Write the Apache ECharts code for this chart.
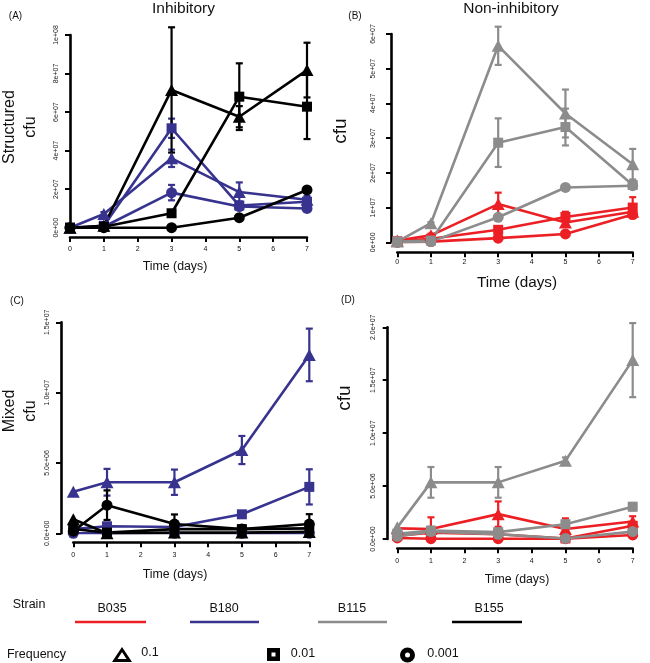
<!DOCTYPE html>
<html><head><meta charset="utf-8">
<script src="https://cdn.jsdelivr.net/npm/echarts@6/dist/echarts.min.js"></script>
<style>html,body{margin:0;padding:0;background:#fff}#c{width:650px;height:663px}</style>
</head><body><div id="c"></div>
<script>
// ---------- data ----------
const days = [0, 1, 3, 5, 7];
const xTicks = ['0','1','2','3','4','5','6','7'];
const yTicksA = ['0e+00','2e+07','4e+07','6e+07','8e+07','1e+08'];
const yTicksB = ['0e+00','1e+07','2e+07','3e+07','4e+07','5e+07','6e+07'];
const yTicksC = ['0.0e+00','5.0e+06','1.0e+07','1.5e+07'];
const yTicksD = ['0.0e+00','5.0e+06','1.0e+07','1.5e+07','2.0e+07'];

// Panel A: Structured, inhibitory
const A_B180_tri = [0, 0.71e7, 3.6e7, 1.85e7, 1.45e7];
const A_B180_triErr = [0, 0.1e7, 0.45e7, 0.5e7, 0.2e7];
const A_B180_sq = [0, 0.1e7, 5.16e7, 1.15e7, 1.35e7];
const A_B180_sqErr = [0, 0, 0.5e7, 0.2e7, 0.2e7];
const A_B180_cir = [0, 0.05e7, 1.82e7, 1.1e7, 1.0e7];
const A_B180_cirErr = [0, 0, 0.4e7, 0.15e7, 0.1e7];
const A_B155_tri = [0, 0.1e7, 7.15e7, 5.76e7, 8.18e7];
const A_B155_triErr = [0, 0, 3.25e7, 0.55e7, 1.42e7];
const A_B155_sq = [0, 0.05e7, 0.75e7, 6.8e7, 6.28e7];
const A_B155_sqErr = [0, 0, 0.05e7, 1.73e7, 1.68e7];
const A_B155_cir = [0, 0, 0, 0.52e7, 1.96e7];
const A_B155_cirErr = [0, 0, 0, 0.05e7, 0.1e7];

// Panel B: Structured, non-inhibitory
const B_B035_tri = [0.05e7, 0.2e7, 1.1e7, 0.57e7, 0.88e7];
const B_B035_triErr = [0.03e7, 0.05e7, 0.33e7, 0.12e7, 0.15e7];
const B_B035_sq = [0.03e7, 0.1e7, 0.36e7, 0.73e7, 1.0e7];
const B_B035_sqErr = [0, 0, 0.1e7, 0.15e7, 0.3e7];
const B_B035_cir = [0, 0.02e7, 0.12e7, 0.24e7, 0.8e7];
const B_B035_cirErr = [0, 0, 0.05e7, 0.08e7, 0.1e7];
const B_B115_tri = [0.02e7, 0.55e7, 5.66e7, 3.71e7, 2.25e7];
const B_B115_triErr = [0, 0.03e7, 0.55e7, 0.69e7, 0.44e7];
const B_B115_sq = [0.02e7, 0.05e7, 2.87e7, 3.32e7, 1.65e7];
const B_B115_sqErr = [0, 0, 0.7e7, 0.53e7, 0.08e7];
const B_B115_cir = [0, 0.02e7, 0.72e7, 1.58e7, 1.63e7];
const B_B115_cirErr = [0, 0, 0.05e7, 0.08e7, 0.05e7];

// Panel C: Mixed, inhibitory
const C_B180_tri = [2.96e6, 3.63e6, 3.63e6, 5.92e6, 12.68e6];
const C_B180_triErr = [0, 0.95e6, 0.9e6, 1.0e6, 1.87e6];
const C_B180_sq = [0.3e6, 0.5e6, 0.45e6, 1.35e6, 3.3e6];
const C_B180_sqErr = [0, 0.1e6, 0.05e6, 0.15e6, 1.25e6];
const C_B180_cir = [0, 0, 0, 0, 0];
const C_B180_cirErr = [0, 0, 0, 0, 0];
const C_B155_tri = [1.0e6, 0, 0.05e6, 0.05e6, 0.1e6];
const C_B155_triErr = [0, 0, 0, 0, 0];
const C_B155_sq = [0.3e6, 0.05e6, 0.3e6, 0.3e6, 0.35e6];
const C_B155_sqErr = [0, 0, 0, 0, 0];
const C_B155_cir = [0.15e6, 2.0e6, 0.66e6, 0.3e6, 0.66e6];
const C_B155_cirErr = [0, 1.05e6, 0.68e6, 0.1e6, 0.7e6];

// Panel D: Mixed, non-inhibitory
const D_B035_tri = [1.0e6, 0.95e6, 2.35e6, 0.95e6, 1.65e6];
const D_B035_triErr = [0, 1.1e6, 1.2e6, 1.0e6, 0.5e6];
const D_B035_sq = [0.3e6, 0.6e6, 0.45e6, 0.05e6, 1.25e6];
const D_B035_sqErr = [0, 0, 0, 0, 0.3e6];
const D_B035_cir = [0.1e6, 0.03e6, 0.03e6, 0.03e6, 0.38e6];
const D_B035_cirErr = [0, 0, 0, 0, 0];
const D_B115_tri = [1.1e6, 5.35e6, 5.35e6, 7.4e6, 16.9e6];
const D_B115_triErr = [0, 1.45e6, 1.45e6, 0.3e6, 3.5e6];
const D_B115_sq = [0.5e6, 0.8e6, 0.65e6, 1.4e6, 3.05e6];
const D_B115_sqErr = [0, 0, 0, 0.2e6, 0.35e6];
const D_B115_cir = [0.25e6, 0.7e6, 0.45e6, 0.05e6, 0.7e6];
const D_B115_cirErr = [0, 0, 0, 0, 0.3e6];

// ---------- style ----------
const COL = { B035: '#ec2024', B180: '#37338f', B115: '#8c8c8c', B155: '#000000' };
const SYM = { tri: ['triangle', [13, 12]], sq: ['rect', [10, 10]], cir: ['circle', [11, 11]] };
const FONT = '"Liberation Sans", Arial, Helvetica, sans-serif';

const panels = [
  { left: 70,    top: 35,    width: 237,   height: 192.7, xOff: 9.3, yOff: 0,    max: 1e8,   interval: 2e7, ticks: yTicksA, margin: 10, xMargin: 9 },
  { left: 397.3, top: 34,    width: 235.4, height: 208.3, xOff: 10,  yOff: 6.3,  max: 6e7,   interval: 1e7, ticks: yTicksB, margin: 14, xMargin: 6 },
  { left: 73.3,  top: 322.3, width: 236,   height: 211,   xOff: 9,   yOff: 12.3, max: 1.5e7, interval: 5e6, ticks: yTicksC, margin: 10, xMargin: 9 },
  { left: 397.3, top: 327.3, width: 235.4, height: 211.7, xOff: 9.3, yOff: 9.6,  max: 2e7,   interval: 5e6, ticks: yTicksD, margin: 11, xMargin: 9 }
];

const panelSeries = [
  [ ['B180','tri',A_B180_tri,A_B180_triErr], ['B180','sq',A_B180_sq,A_B180_sqErr], ['B180','cir',A_B180_cir,A_B180_cirErr],
    ['B155','tri',A_B155_tri,A_B155_triErr], ['B155','sq',A_B155_sq,A_B155_sqErr], ['B155','cir',A_B155_cir,A_B155_cirErr] ],
  [ ['B035','tri',B_B035_tri,B_B035_triErr], ['B035','sq',B_B035_sq,B_B035_sqErr], ['B035','cir',B_B035_cir,B_B035_cirErr],
    ['B115','tri',B_B115_tri,B_B115_triErr], ['B115','sq',B_B115_sq,B_B115_sqErr], ['B115','cir',B_B115_cir,B_B115_cirErr] ],
  [ ['B180','tri',C_B180_tri,C_B180_triErr], ['B180','sq',C_B180_sq,C_B180_sqErr], ['B180','cir',C_B180_cir,C_B180_cirErr],
    ['B155','tri',C_B155_tri,C_B155_triErr], ['B155','sq',C_B155_sq,C_B155_sqErr], ['B155','cir',C_B155_cir,C_B155_cirErr] ],
  [ ['B035','tri',D_B035_tri,D_B035_triErr], ['B035','sq',D_B035_sq,D_B035_sqErr], ['B035','cir',D_B035_cir,D_B035_cirErr],
    ['B115','tri',D_B115_tri,D_B115_triErr], ['B115','sq',D_B115_sq,D_B115_sqErr], ['B115','cir',D_B115_cir,D_B115_cirErr] ]
];

const grid = [], xAxis = [], yAxis = [], series = [];
panels.forEach((p, i) => {
  grid.push({ left: p.left, top: p.top, width: p.width, height: p.height, containLabel: false });
  xAxis.push({
    type: 'value', gridIndex: i, min: 0, max: 7, interval: 1, offset: p.xOff,
    axisLine: { show: true, onZero: false, lineStyle: { color: '#000', width: 2.6 } },
    axisTick: { show: true, length: 5, lineStyle: { color: '#000', width: 2 } },
    axisLabel: { fontSize: 7, color: '#111', margin: p.xMargin, fontFamily: FONT, formatter: v => xTicks[Math.round(v)] },
    splitLine: { show: false }
  });
  yAxis.push({
    type: 'value', gridIndex: i, min: 0, max: p.max, interval: p.interval, offset: p.yOff,
    axisLine: { show: true, onZero: false, lineStyle: { color: '#000', width: 2.6 } },
    axisTick: { show: true, length: 5, lineStyle: { color: '#000', width: 2 } },
    axisLabel: { fontSize: 7, color: '#222', rotate: 90, margin: p.margin, fontFamily: FONT,
      formatter: v => p.ticks[Math.round(v / p.interval)] },
    splitLine: { show: false }
  });
  panelSeries[i].forEach(([strain, shape, vals, errs]) => {
    const color = COL[strain];
    series.push({
      type: 'custom', xAxisIndex: i, yAxisIndex: i, silent: true, z: 3,
      data: days.map((d, k) => [d, vals[k], errs[k]]),
      renderItem: (params, api) => {
        const x = api.value(0), y = api.value(1), e = api.value(2);
        if (!e) return null;
        const t = api.coord([x, y + e]), b = api.coord([x, y - e]);
        const w = 3.5;
        const st = { stroke: color, lineWidth: 2.2 };
        return { type: 'group', children: [
          { type: 'line', shape: { x1: t[0], y1: t[1], x2: b[0], y2: b[1] }, style: st },
          { type: 'line', shape: { x1: t[0] - w, y1: t[1], x2: t[0] + w, y2: t[1] }, style: st },
          { type: 'line', shape: { x1: b[0] - w, y1: b[1], x2: b[0] + w, y2: b[1] }, style: st }
        ] };
      }
    });
    series.push({
      type: 'line', xAxisIndex: i, yAxisIndex: i, name: strain + ' ' + shape, z: 4,
      data: days.map((d, k) => [d, vals[k]]),
      symbol: SYM[shape][0], symbolSize: SYM[shape][1], showSymbol: true,
      itemStyle: { color: color }, lineStyle: { color: color, width: 2.6 },
      animation: false, silent: true
    });
  });
});

const txt = (x, y, text, size) => ({
  type: 'text', x: x, y: y,
  style: { text: text, fontSize: size, fontFamily: FONT, fill: '#111', align: 'center', verticalAlign: 'middle' }
});
const vtxt = (x, y, text, size) => ({
  type: 'text', x: x, y: y, rotation: Math.PI / 2,
  style: { text: text, fontSize: size, fontFamily: FONT, fill: '#111', align: 'center', verticalAlign: 'middle' }
});

const graphic = [
  txt(183.5, 9, 'Inhibitory', 15.5),
  txt(511, 9, 'Non-inhibitory', 15.5),
  txt(15.5, 16, '(A)', 10),
  txt(355, 16, '(B)', 10),
  txt(17, 301, '(C)', 10),
  txt(348, 300, '(D)', 10),
  vtxt(10, 127, 'Structured', 16),
  vtxt(31, 127, 'cfu', 16),
  vtxt(341, 131, 'cfu', 19),
  vtxt(10, 411, 'Mixed', 16),
  vtxt(31, 411, 'cfu', 16),
  vtxt(345, 398, 'cfu', 19),
  txt(175, 266.5, 'Time (days)', 12.3),
  txt(517, 283, 'Time (days)', 15.3),
  txt(175, 575, 'Time (days)', 12.3),
  txt(517, 580, 'Time (days)', 12.3),
  // legend
  txt(29, 605, 'Strain', 12.5),
  txt(112, 609, 'B035', 12.5),
  txt(224, 609, 'B180', 12.5),
  txt(352, 609, 'B115', 12.5),
  txt(489, 609, 'B155', 12.5),
  { type: 'line', shape: { x1: 75, y1: 622, x2: 146, y2: 622 }, style: { stroke: COL.B035, lineWidth: 2.7 } },
  { type: 'line', shape: { x1: 190, y1: 622, x2: 259, y2: 622 }, style: { stroke: COL.B180, lineWidth: 2.7 } },
  { type: 'line', shape: { x1: 318, y1: 622, x2: 387, y2: 622 }, style: { stroke: COL.B115, lineWidth: 2.7 } },
  { type: 'line', shape: { x1: 452, y1: 622, x2: 522, y2: 622 }, style: { stroke: COL.B155, lineWidth: 2.7 } },
  txt(36.5, 655, 'Frequency', 12.5),
  { type: 'polygon', shape: { points: [[112, 662], [132, 662], [122, 647]] }, style: { fill: '#000' } },
  { type: 'polygon', shape: { points: [[117.5, 659], [126.5, 659], [122, 652]] }, style: { fill: '#fff' } },
  txt(150, 653, '0.1', 12.5),
  { type: 'rect', shape: { x: 267, y: 648, width: 13, height: 13 }, style: { fill: '#000' } },
  { type: 'rect', shape: { x: 271.5, y: 652.5, width: 4, height: 4 }, style: { fill: '#fff' } },
  txt(303, 654, '0.01', 12.5),
  { type: 'circle', shape: { cx: 407.5, cy: 655, r: 7.5 }, style: { fill: '#000' } },
  { type: 'circle', shape: { cx: 407.5, cy: 655, r: 2.5 }, style: { fill: '#fff' } },
  txt(443, 654, '0.001', 12.5)
];

const chart = echarts.init(document.getElementById('c'), null, { renderer: 'canvas' });
chart.setOption({
  backgroundColor: '#fff',
  animation: false,
  textStyle: { fontFamily: FONT },
  grid: grid, xAxis: xAxis, yAxis: yAxis, series: series, graphic: graphic
});
</script></body></html>
